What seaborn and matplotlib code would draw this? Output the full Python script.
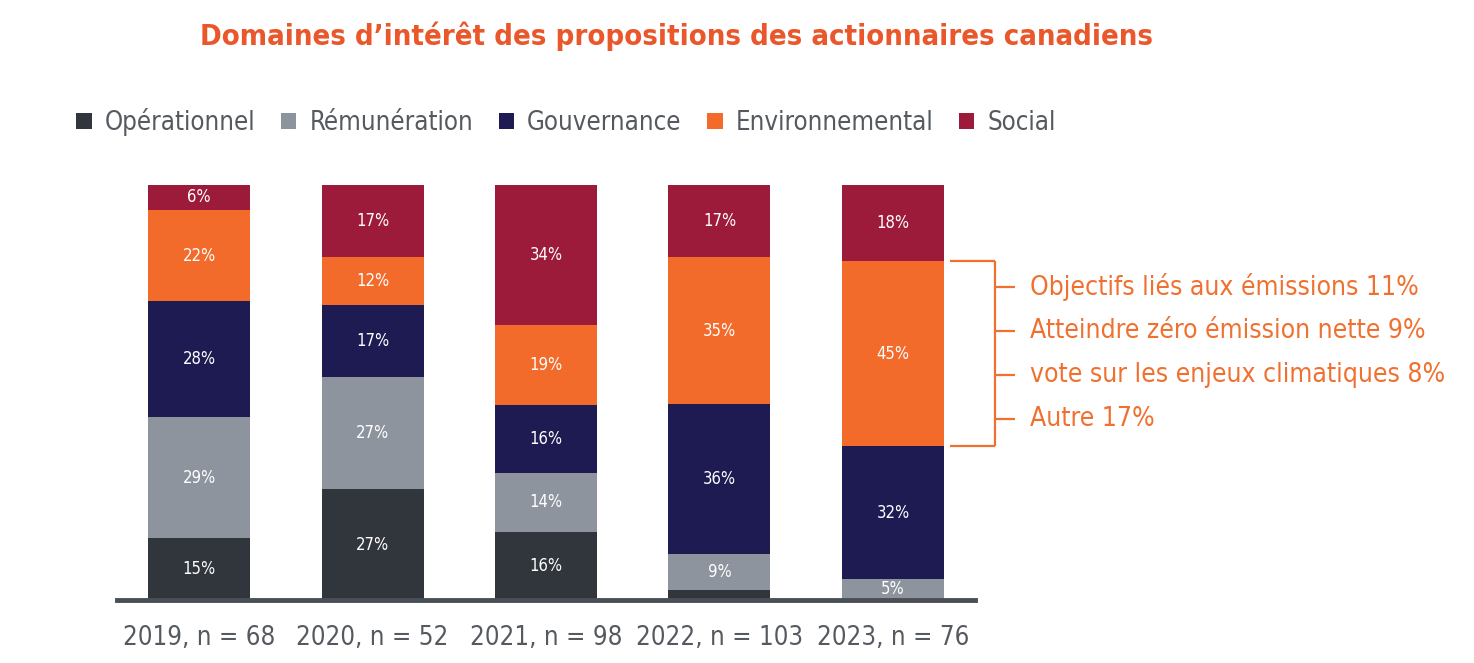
import matplotlib
matplotlib.use("Agg")
import matplotlib.pyplot as plt
import seaborn as sns
import pandas as pd
import numpy as np
from matplotlib.patches import Patch

sns.set_style("white")
plt.rcParams['font.family'] = ['DejaVu Sans']
plt.rcParams['font.stretch'] = 'condensed'

years = ["2019, n = 68", "2020, n = 52", "2021, n = 98", "2022, n = 103", "2023, n = 76"]
categories = ["Opérationnel", "Rémunération", "Gouvernance", "Environnemental", "Social"]
operationnel = [15.0, 26.7, 16.4, 2.5, 0.0]
remuneration = [29.0, 27.0, 14.2, 8.6, 5.1]
gouvernance = [28.0, 17.3, 16.4, 36.1, 31.9]
environnemental = [22.0, 11.6, 19.3, 35.4, 44.6]
social = [6.0, 17.4, 33.7, 17.4, 18.4]
show_label = [[True, True, True, False, False],
              [True, True, True, True, True],
              [True, True, True, True, True],
              [True, True, True, True, True],
              [True, True, True, True, True]]
colors = ["#31353c", "#8d949d", "#1d1b52", "#f26b2b", "#9c1b3b"]
env_breakdown = ["Objectifs liés aux émissions 11%", "Atteindre zéro émission nette 9%",
                 "vote sur les enjeux climatiques 8%", "Autre 17%"]

series = [operationnel, remuneration, gouvernance, environnemental, social]
df = pd.DataFrame({"year": years})
for c, s in zip(categories, series):
    df[c] = s

fig = plt.figure(figsize=(14.74, 6.63), dpi=100)
ax = fig.add_axes([117/1474, 1-600/663, (975-117)/1474, (600-185)/663])

bottom = np.zeros(len(years))
for i, (c, col) in enumerate(zip(categories, colors)):
    sns.barplot(data=df, x="year", y=c, bottom=bottom, color=col, width=0.588,
                ax=ax, saturation=1, linewidth=0)
    cont = ax.containers[-1]
    labels = [f"{round(v):.0f}%" if show_label[i][j] else "" for j, v in enumerate(df[c])]
    ax.bar_label(cont, labels=labels, label_type="center", color="white", fontsize=12)
    bottom = bottom + df[c].values

ax.set_xlim(-0.473, 4.473)
ax.set_ylim(0, 100)
ax.set_xlabel("")
ax.set_ylabel("")
ax.set_yticks([])
for s in ["top", "right", "left"]:
    ax.spines[s].set_visible(False)
ax.spines["bottom"].set_linewidth(3.5)
ax.spines["bottom"].set_color("#4a4f56")
ax.tick_params(axis="x", length=0, pad=18, labelsize=18.5, labelcolor="#555a60")

fig.text(677/1474, 1-36/663, "Domaines d\u2019intérêt des propositions des actionnaires canadiens",
         ha="center", va="center", fontsize=21, fontweight="bold", color="#e9572b")

handles = [Patch(facecolor=c, edgecolor="none") for c in colors]
fig.legend(handles, categories, loc="center", bbox_to_anchor=(566/1474, 1-122/663), ncol=5,
           frameon=False, fontsize=18.5, handlelength=0.6, handleheight=0.6,
           handletextpad=0.5, columnspacing=1.0, labelcolor="#555a60")

orange = "#f07030"
env_bot = operationnel[4] + remuneration[4] + gouvernance[4]
env_top = env_bot + environnemental[4]
x0, x1, x2 = (950-199)/173.5, (995-199)/173.5, (1015-199)/173.5
kw = dict(color=orange, lw=1.6, clip_on=False, solid_capstyle="butt")
ax.plot([x0, x1], [env_top, env_top], **kw)
ax.plot([x0, x1], [env_bot, env_bot], **kw)
ax.plot([x1, x1], [env_bot, env_top], **kw)
ys = [(600-287)/4.15, (600-331)/4.15, (600-375)/4.15, (600-419)/4.15]
for y, t in zip(ys, env_breakdown):
    ax.plot([x1, x2], [y, y], **kw)
    ax.text((1030-199)/173.5, y, t, ha="left", va="center", fontsize=19, color=orange,
            clip_on=False)

fig.savefig("out.png", dpi=100)
